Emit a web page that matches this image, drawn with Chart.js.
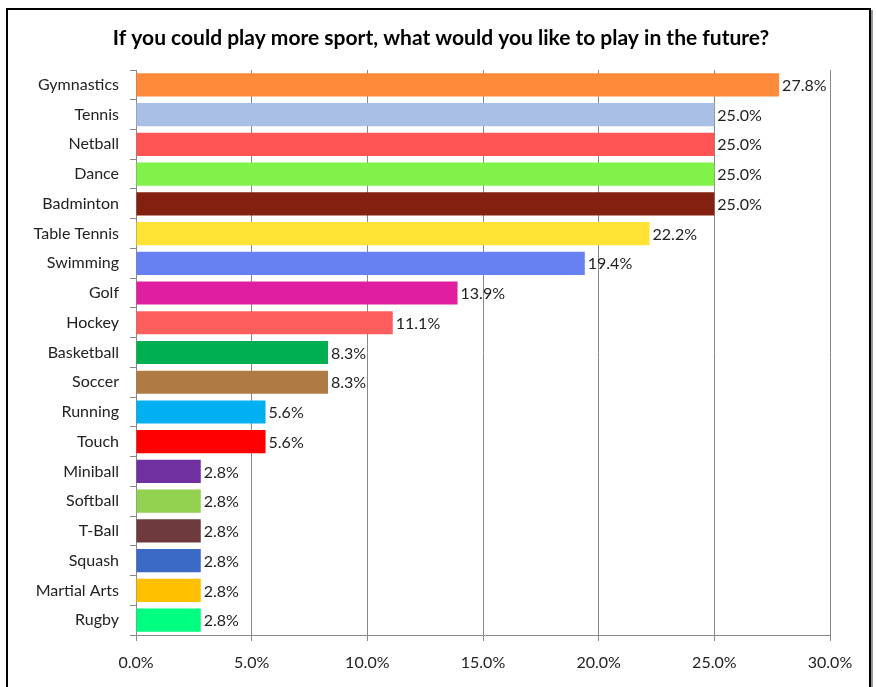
<!DOCTYPE html>
<html>
<head>
<meta charset="utf-8">
<script src="https://cdn.jsdelivr.net/npm/chart.js@4/dist/chart.umd.min.js"></script>
<style>
  html, body { margin: 0; padding: 0; background: #fff; }
  #frame { position: absolute; left: 6px; top: 8px; width: 861px; height: 700px;
           border: 2px solid #000; box-shadow: 2px 2px 0 #999; background: #fff; }
  #wrap { position: absolute; left: 0; top: 0; width: 876px; height: 687px; }
</style>
</head>
<body>
<div id="frame"></div>
<div id="wrap"><canvas id="c" width="876" height="687"></canvas></div>
<script>
const categories = ["Gymnastics","Tennis","Netball","Dance","Badminton","Table Tennis","Swimming","Golf","Hockey","Basketball","Soccer","Running","Touch","Miniball","Softball","T-Ball","Squash","Martial Arts","Rugby"];
const values = [27.8,25.0,25.0,25.0,25.0,22.2,19.4,13.9,11.1,8.3,8.3,5.6,5.6,2.8,2.8,2.8,2.8,2.8,2.8];
const barColors = ["#FF8A3A","#A9BFE6","#FF5555","#80F24A","#842010","#FFE234","#6780F2","#E01FA0","#FF5E5E","#00B050","#B07A45","#00B0F0","#FF0000","#7030A0","#92D050","#6E3A3E","#3A6AC6","#FFC000","#00FF80"];
const xTicks = [0,5,10,15,20,25,30];
const titleText = "If you could play more sport, what would you like to play in the future?";

const FONT = "Lato, 'Liberation Sans', sans-serif";

const titlePlugin = {
  id: 'pageTitle',
  afterDraw(chart) {
    const ctx = chart.ctx;
    ctx.save();
    ctx.font = "bold 21px " + FONT;
    ctx.fillStyle = "#000";
    ctx.textAlign = "center";
    ctx.textBaseline = "middle";
    ctx.fillText(titleText, chart.width / 2 + 3, 38);
    ctx.restore();
  }
};

const labelPlugin = {
  id: 'barLabels',
  afterDatasetsDraw(chart) {
    const ctx = chart.ctx;
    const meta = chart.getDatasetMeta(0);
    ctx.save();
    ctx.font = "16px " + FONT;
    ctx.fillStyle = "#222";
    ctx.textAlign = "left";
    ctx.textBaseline = "middle";
    meta.data.forEach((bar, i) => {
      ctx.fillText(values[i].toFixed(1) + "%", bar.x + 3, bar.y + 1);
    });
    ctx.restore();
  }
};

new Chart(document.getElementById('c'), {
  type: 'bar',
  data: {
    labels: categories,
    datasets: [{
      data: values,
      backgroundColor: barColors,
      borderWidth: 0,
      barPercentage: 0.78,
      categoryPercentage: 1.0
    }]
  },
  options: {
    indexAxis: 'y',
    responsive: false,
    animation: false,
    layout: { padding: { left: 0, right: 46, top: 70, bottom: 0 } },
    plugins: {
      legend: { display: false },
      tooltip: { enabled: false },
      title: { display: false }
    },
    scales: {
      x: {
        min: 0, max: 30,
        afterBuildTicks(scale) { scale.ticks = xTicks.map(v => ({ value: v })); },
        afterFit(scale) { scale.height = 52; },
        ticks: {
          callback: v => Number(v).toFixed(1) + "%",
          color: "#222",
          font: { family: FONT, size: 16 },
          padding: 12
        },
        grid: { color: "#888", lineWidth: 1, tickLength: 6, drawOnChartArea: true },
        border: { display: true, color: "#888" }
      },
      y: {
        afterFit(scale) { scale.width = 136; },
        ticks: {
          color: "#222",
          font: { family: FONT, size: 16 },
          padding: 11
        },
        grid: { drawOnChartArea: false, color: "#888", tickLength: 6, offset: true },
        border: { display: true, color: "#888" }
      }
    }
  },
  plugins: [labelPlugin, titlePlugin]
});
</script>
</body>
</html>
